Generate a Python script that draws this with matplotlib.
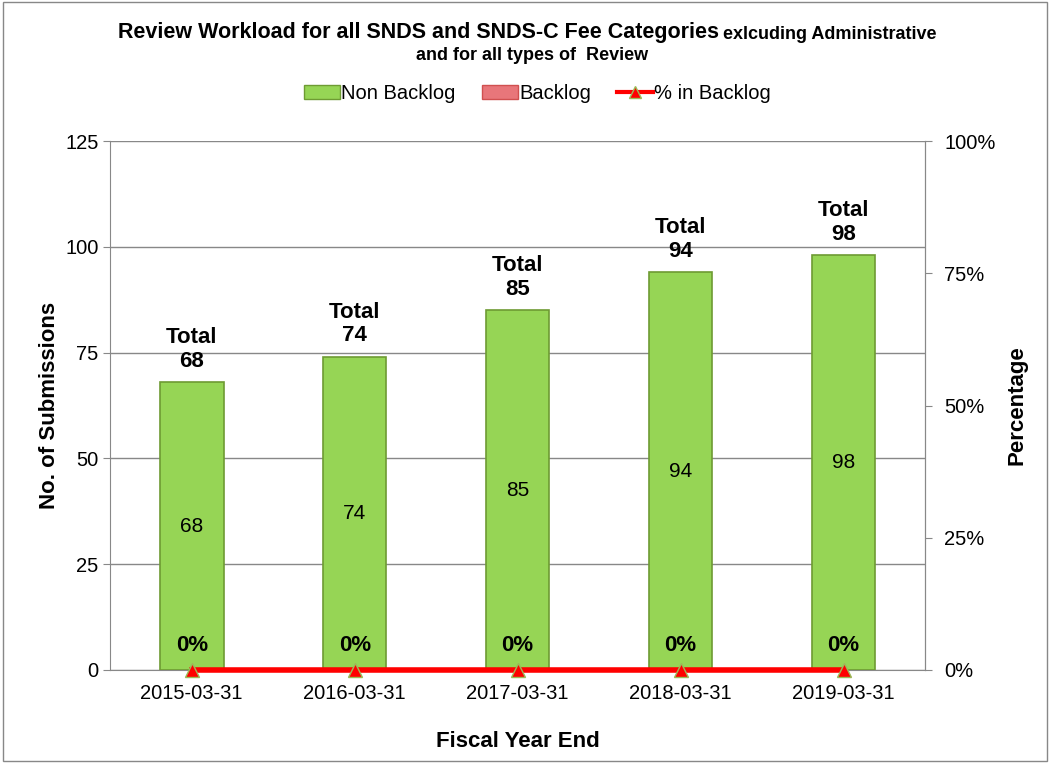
import numpy as np
import matplotlib.pyplot as plt
from matplotlib.patches import Patch, Rectangle
from matplotlib.lines import Line2D

plt.rcParams['font.family'] = ['Liberation Sans', 'DejaVu Sans']

years = ['2015-03-31', '2016-03-31', '2017-03-31', '2018-03-31', '2019-03-31']
non_backlog = [68, 74, 85, 94, 98]
backlog = [0, 0, 0, 0, 0]
pct_backlog = [0, 0, 0, 0, 0]

green = '#96D555'
green_edge = '#6E9B33'
red = '#E8767A'

fig = plt.figure(figsize=(10.5, 7.63), dpi=100)
ax = fig.add_axes([0.105, 0.122, 0.776, 0.693])
x = np.arange(len(years))
totals = [a + b for a, b in zip(non_backlog, backlog)]

ax.bar(x, non_backlog, width=0.39, color=green, edgecolor=green_edge, linewidth=1.2, zorder=3)
ax.bar(x, backlog, width=0.39, bottom=non_backlog, color=red, linewidth=0, zorder=3)

for xi, v, t in zip(x, non_backlog, totals):
    ax.text(xi, v / 2, str(v), ha='center', va='center', fontsize=15, zorder=5)
    ax.text(xi, t + 2.5, 'Total\n' + str(t), ha='center', va='bottom', fontsize=16,
            fontweight='bold', linespacing=1.15, zorder=5)

ax.set_ylim(0, 125)
ax.set_xlim(-0.5, len(years) - 0.5)
ax.set_yticks([0, 25, 50, 75, 100, 125])
ax.set_xticks(x)
ax.set_xticklabels(years)
ax.tick_params(axis='both', labelsize=14.5, color='#888888', length=5)
ax.tick_params(axis='x', length=0, pad=10)
ax.grid(axis='y', color='#888888', linewidth=1, zorder=0)
ax.spines['top'].set_visible(False)
for s in ['left', 'bottom', 'right']:
    ax.spines[s].set_color('#888888')
ax.set_ylabel('No. of Submissions', fontsize=16, fontweight='bold', labelpad=4)
ax.set_xlabel('Fiscal Year End', fontsize=16, fontweight='bold', labelpad=20)

ax2 = ax.twinx()
ax2.set_ylim(0, 1)
ax2.set_yticks([0, 0.25, 0.5, 0.75, 1.0])
ax2.set_yticklabels(['0%', '25%', '50%', '75%', '100%'])
ax2.tick_params(axis='y', labelsize=14.5, color='#888888', length=5, pad=9)
for s in ['top', 'left', 'bottom']:
    ax2.spines[s].set_visible(False)
ax2.spines['right'].set_color('#888888')
ax2.set_ylabel('Percentage', fontsize=16, fontweight='bold', labelpad=8)
ax2.plot(x, pct_backlog, color='#FF0000', linewidth=4, marker='^', markersize=10,
         markerfacecolor='#FF0000', markeredgecolor='#9BBB59', clip_on=False, zorder=6)
for xi, p in zip(x, pct_backlog):
    ax2.text(xi, p + 0.047, '{:.0%}'.format(p), ha='center', va='center', fontsize=16,
             fontweight='bold', zorder=7)

t1 = fig.text(0.112, 0.958, 'Review Workload for all SNDS and SNDS-C Fee Categories',
              ha='left', va='center', fontsize=15.5, fontweight='bold')
fig.canvas.draw()
bb = t1.get_window_extent()
fig.text(bb.x1 / fig.bbox.width + 0.004, 0.955, 'exlcuding Administrative', ha='left',
         va='center', fontsize=13, fontweight='bold')
fig.text(0.507, 0.927, 'and for all types of  Review', ha='center', va='center',
         fontsize=13, fontweight='bold')

handles = [Patch(facecolor=green, edgecolor=green_edge),
           Patch(facecolor=red, edgecolor='#D05050'),
           Line2D([0], [0], color='#FF0000', linewidth=3, marker='^', markersize=8,
                  markerfacecolor='#FF0000', markeredgecolor='#9BBB59')]
fig.legend(handles, ['Non Backlog', 'Backlog', '% in Backlog'], loc='center',
           bbox_to_anchor=(0.512, 0.877), ncol=3, frameon=False,
           handlelength=1.8, handletextpad=0.05, columnspacing=1.3,
           prop={'size': 14.5})

fig.patches.append(Rectangle((0.003, 0.003), 0.994, 0.994, transform=fig.transFigure,
                             fill=False, edgecolor='#888888', linewidth=1))

fig.savefig('out.png', dpi=100)
